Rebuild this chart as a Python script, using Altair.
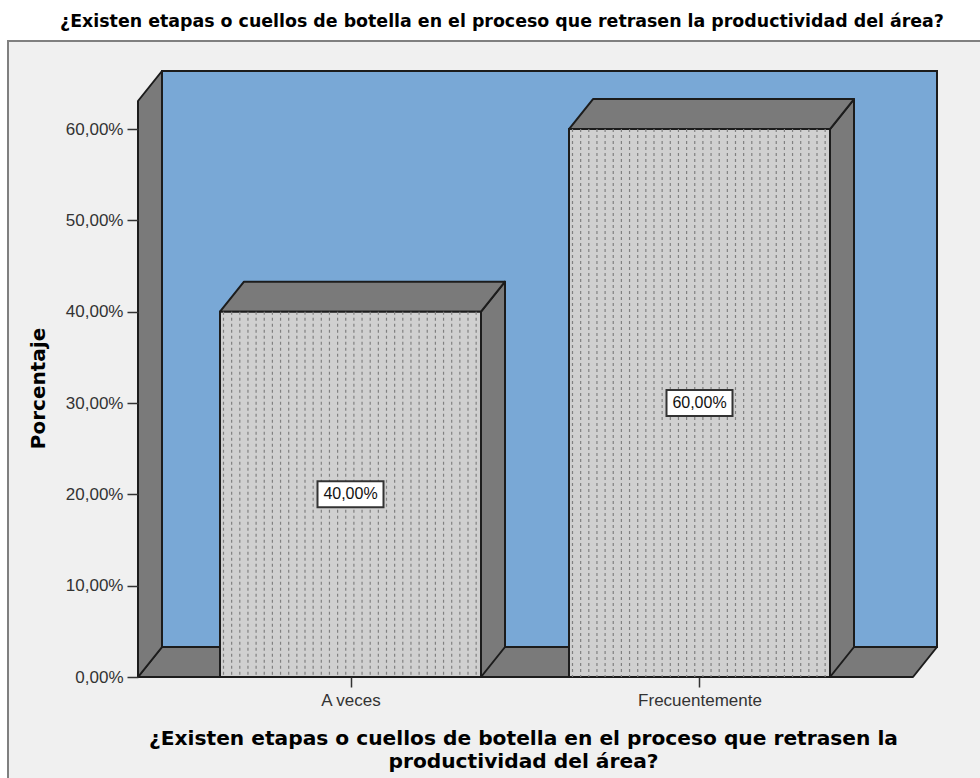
import altair as alt
import numpy as np
import pandas as pd

categories = ["A veces", "Frecuentemente"]
percentages = [40.0, 60.0]
y_ticks = [0, 10, 20, 30, 40, 50, 60]

TITLE = "¿Existen etapas o cuellos de botella en el proceso que retrasen la productividad del área?"
X_TITLE = ["¿Existen etapas o cuellos de botella en el proceso que retrasen la",
           "productividad del área?"]
Y_TITLE = "Porcentaje"

# Plot area is the whole 3D box; the scales run in category index and percent.
PX_PER_CAT = 349.0
PX_PER_PCT = 9.133
PLOT_W, PLOT_H = 799, 606
X_MIN = -212.5 / PX_PER_CAT
X_MAX = X_MIN + PLOT_W / PX_PER_CAT
Y_MAX = PLOT_H / PX_PER_PCT
DX = 24 / PX_PER_CAT          # horizontal depth of the box
DY = 30 / PX_PER_PCT          # vertical depth of the box
HALF = 130.5 / PX_PER_CAT     # half a bar's width
FLOOR_R = X_MAX - DX

x_scale = alt.Scale(domain=[X_MIN, X_MAX], nice=False, zero=False)
y_scale = alt.Scale(domain=[0, Y_MAX], nice=False, zero=False)

BLUE = "#79a8d6"
GREY = "#7a7a7a"
BAR = "#d0d0d0"
EDGE = "#1c1c1c"


def X(field="x"):
    return alt.X(field, type="quantitative", scale=x_scale, axis=None)


def Y(field="y"):
    return alt.Y(field, type="quantitative", scale=y_scale, axis=None)


def vertical_face(rows):
    """Parallelogram with its top and bottom edges given at two x stops."""
    df = pd.DataFrame(rows, columns=["x", "y", "y0"])
    return alt.Chart(df).mark_area(fill=GREY, stroke=EDGE, strokeWidth=2, strokeJoin="round").encode(
        x=X(), y=Y(), y2="y0:Q"
    )


def horizontal_face(rows):
    """Parallelogram with its left and right edges given at two y stops."""
    df = pd.DataFrame(rows, columns=["y", "x", "x0"])
    return alt.Chart(df).mark_area(
        orient="horizontal", fill=GREY, stroke=EDGE, strokeWidth=2, strokeJoin="round"
    ).encode(y=Y(), x=X(), x2="x0:Q")


one_row = pd.DataFrame({"a": [0]})

# Surrounding panel, placed relative to the plot area
panel = alt.Chart(one_row).mark_rect(
    fill="#f0f0f0", stroke="#808080", strokeWidth=2
).encode(x=alt.value(-130), x2=alt.value(860), y=alt.value(-30), y2=alt.value(740))

# Axes live on their own layer above everything else
axes = alt.Chart(pd.DataFrame({"x": [0.0, 1.0], "y": [0.0, 60.0]})).mark_point(opacity=0).encode(
    x=alt.X("x:Q", scale=x_scale, axis=alt.Axis(
        values=[0, 1],
        labelExpr=f"datum.value == 0 ? '{categories[0]}' : '{categories[1]}'",
        domain=False, grid=False, tickSize=10, tickColor="#333333", tickWidth=1.5,
        labelFont="Liberation Sans", labelFontSize=17, labelColor="#333333", labelPadding=5,
        title=X_TITLE, titleFont="DejaVu Sans", titleFontSize=20.2, titleFontWeight="bold",
        titleColor="#000000", titleX=385, titleY=51, titleLineHeight=23, zindex=1,
    )),
    y=alt.Y("y:Q", scale=y_scale, axis=alt.Axis(
        values=y_ticks,
        labelExpr="replace(format(datum.value, '.2f'), '.', ',') + '%'",
        domain=False, grid=False, tickSize=11, tickColor="#333333", tickWidth=1.5,
        labelFont="Liberation Sans", labelFontSize=17, labelColor="#333333", labelPadding=4,
        title=Y_TITLE, titleFont="DejaVu Sans", titleFontSize=20, titleFontWeight="bold",
        titleColor="#000000", titleX=-90, titleY=317, zindex=1,
    )),
)

# Back wall, floor and left wall of the box
back = alt.Chart(pd.DataFrame({"x": [X_MIN + DX, X_MAX], "y": [Y_MAX, Y_MAX], "y0": [DY, DY]})).mark_area(
    fill=BLUE, stroke=EDGE, strokeWidth=2
).encode(x=X(), y=Y(), y2="y0:Q")
floor = horizontal_face([(0, X_MIN, FLOOR_R), (DY, X_MIN + DX, X_MAX)])
left = vertical_face([(X_MIN, Y_MAX - DY, 0), (X_MIN + DX, Y_MAX, DY)])

# Side and top faces, one layer each
faces = []
for i, v in enumerate(percentages):
    r = i + HALF
    faces.append(vertical_face([(r, v, 0), (r + DX, v + DY, DY)]))
    faces.append(horizontal_face([(v, i - HALF, r), (v + DY, i - HALF + DX, r + DX)]))

bars = pd.DataFrame({"cat": categories, "pos": [0.0, 1.0], "pct": percentages})
bars["x0"] = bars["pos"] - HALF
bars["x1"] = bars["pos"] + HALF
bars["mid"] = bars["pct"] / 2
bars["label"] = [f"{v:.2f}".replace(".", ",") + "%" for v in percentages]

front = alt.Chart(bars).mark_rect(fill=BAR, stroke=EDGE, strokeWidth=2).encode(
    x=X("x0"), x2="x1:Q", y=Y("pct"), y2=alt.datum(0)
)

# Dotted hatching on the bar fronts, one rule per hatch column
hatch_rows = []
for i, v in enumerate(percentages):
    for px in np.arange(3.5, 260.0, 8.15):
        hatch_rows.append({"x": i - HALF + px / PX_PER_CAT, "top": v})
hatch = alt.Chart(pd.DataFrame(hatch_rows)).mark_rule(
    color="#808080", strokeWidth=1.2, strokeDash=[3, 3]
).encode(x=X(), y=Y("top"), y2=alt.datum(0))

# Value labels in white boxes at mid height
boxes = alt.Chart(bars).mark_rect(
    width=66, height=26, fill="#ffffff", stroke="#333333", strokeWidth=2
).encode(x=X("pos"), y=Y("mid"))
labels = alt.Chart(bars).mark_text(
    font="Liberation Sans", fontSize=16, color="#111111"
).encode(x=X("pos"), y=Y("mid"), text="label:N")

# Heading above the panel
heading = alt.Chart(one_row).mark_text(
    text=TITLE, font="DejaVu Sans", fontSize=17.4, fontWeight="bold", color="#000000",
    align="center", baseline="middle",
).encode(x=alt.value(364), y=alt.value(-49))

chart = alt.layer(
    panel, heading, back, floor, left, *faces, front, hatch, boxes, labels, axes
).resolve_axis(x="independent", y="independent").properties(
    width=PLOT_W,
    height=PLOT_H,
    padding={"left": 138, "top": 71, "right": 43, "bottom": 101},
    autosize=alt.AutoSizeParams(type="none"),
    background="#ffffff",
).configure_view(stroke=None)

chart.save("out.html", embed_options={"renderer": "svg", "actions": False})
